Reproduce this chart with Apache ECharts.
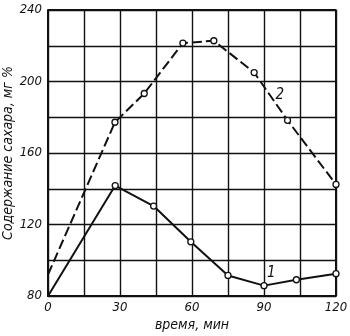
<!DOCTYPE html>
<html>
<head>
<meta charset="utf-8">
<script src="https://cdn.jsdelivr.net/npm/echarts@6/dist/echarts.min.js"></script>
<style>
  html, body { margin: 0; padding: 0; background: #fff; }
  #chart { width: 350px; height: 336px; }
</style>
</head>
<body>
<div id="chart"></div>
<script>
// Blood sugar content over time, two curves
const timeCurve1 = [0, 28, 44, 59.5, 75, 90, 103.5, 120];
const sugarCurve1 = [80, 141.8, 130.3, 110.3, 91.5, 85.8, 89.1, 92.5];

const timeCurve2 = [0, 27.9, 40.1, 56.2, 69.1, 85.9, 99.8, 120];
const sugarCurve2 = [92, 177.2, 193.3, 221.5, 222.8, 205, 178.3, 142.4];

const xTicks = [0, 30, 60, 90, 120];
const yTicks = [80, 120, 160, 200, 240];

const curveNames = ['1', '2'];
const curveNameAt = [[93, 92.7], [96.6, 192.3]];

const font = "'DejaVu Sans Condensed', 'Liberation Sans Narrow', 'DejaVu Sans', sans-serif";
const ink = '#111';

function pairs(xs, ys) { return xs.map((x, i) => [x, ys[i]]); }

const chart = echarts.init(document.getElementById('chart'), null, { renderer: 'canvas' });

function curve(name, xs, ys, lineType, labelAt) {
  return {
    name: name,
    type: 'line',
    data: pairs(xs, ys).map((p, i) => ({
      value: p,
      symbol: i === 0 ? 'none' : 'circle'
    })),
    symbolSize: 6,
    showAllSymbol: true,
    lineStyle: { color: ink, width: 2, type: lineType },
    itemStyle: { color: '#fff', borderColor: ink, borderWidth: 1.3 },
    z: 5,
    animation: false,
    markPoint: {
      symbol: 'circle',
      symbolSize: 0,
      data: [{ coord: labelAt, value: name }],
      label: {
        show: true,
        formatter: name,
        color: ink,
        fontFamily: font,
        fontStyle: 'italic',
        fontSize: 15,
        position: 'inside'
      }
    }
  };
}

chart.setOption({
  backgroundColor: '#fff',
  animation: false,
  grid: { left: 48, right: 14, top: 10, bottom: 40, containLabel: false, outerBoundsMode: 'none' },
  xAxis: {
    type: 'value',
    min: 0, max: 120, interval: 15,
    name: 'время, мин',
    nameLocation: 'middle',
    nameGap: 22,
    nameMoveOverlap: false,
    nameTextStyle: { color: ink, fontFamily: font, fontStyle: 'italic', fontSize: 14 },
    axisLine: { show: true, lineStyle: { color: ink, width: 2 } },
    axisTick: { show: false },
    splitLine: { show: true, lineStyle: { color: ink, width: 1.4 } },
    axisLabel: {
      color: ink, fontFamily: font, fontStyle: 'italic', fontSize: 13, margin: 5,
      formatter: v => xTicks.includes(v) ? String(v) : ''
    }
  },
  yAxis: {
    type: 'value',
    min: 80, max: 240, interval: 20,
    name: 'Содержание сахара, мг %',
    nameLocation: 'middle',
    nameGap: 33,
    nameMoveOverlap: false,
    nameRotate: 90,
    nameTextStyle: { color: ink, fontFamily: font, fontStyle: 'italic', fontSize: 14 },
    axisLine: { show: true, lineStyle: { color: ink, width: 2 } },
    axisTick: { show: false },
    splitLine: { show: true, lineStyle: { color: ink, width: 1.4 } },
    axisLabel: {
      color: ink, fontFamily: font, fontStyle: 'italic', fontSize: 13, margin: 6,
      formatter: v => yTicks.includes(v) ? String(v) : ''
    }
  },
  series: [
    curve(curveNames[0], timeCurve1, sugarCurve1, 'solid', curveNameAt[0]),
    curve(curveNames[1], timeCurve2, sugarCurve2, [10, 4], curveNameAt[1]),
    {
      // frame on the top and right edges of the plot
      type: 'line',
      data: [[0, 240], [120, 240], [120, 80]],
      symbol: 'none',
      silent: true,
      lineStyle: { color: ink, width: 2 },
      z: 3,
      animation: false
    }
  ]
});
</script>
</body>
</html>
